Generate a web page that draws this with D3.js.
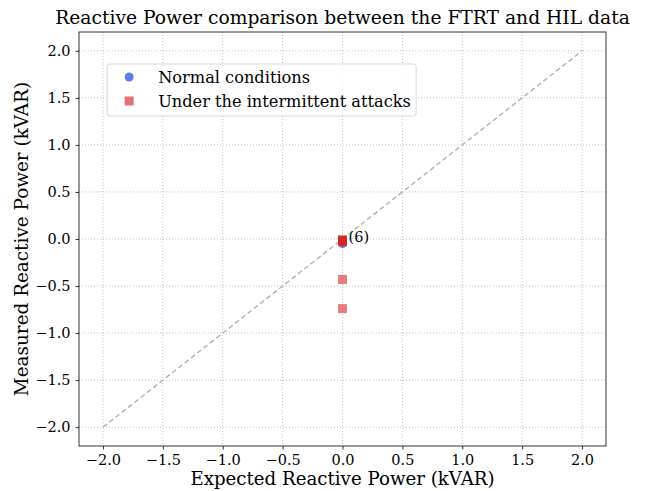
<!DOCTYPE html>
<html>
<head>
<meta charset="utf-8">
<script src="https://cdn.jsdelivr.net/npm/d3@7"></script>
<style>
  body { margin: 0; background: #fff; }
  text { font-family: "DejaVu Serif", serif; fill: #000; }
</style>
</head>
<body>
<div id="chart"></div>
<script>
const tickValues = [-2.0, -1.5, -1.0, -0.5, 0.0, 0.5, 1.0, 1.5, 2.0];

const normalExpected = [0.0];
const normalMeasured = [-0.05];

const attackExpected = [0.0, 0.0, 0.0, 0.0, 0.0, 0.0, 0.0, 0.0];
const attackMeasured = [-0.02, -0.01, -0.03, -0.02, -0.01, -0.02, -0.43, -0.74];

const annotations = [{ x: 0.0, y: -0.02, label: "(6)" }];

const seriesLabels = ["Normal conditions", "Under the intermittent attacks"];

(function () {
  const W = 649, H = 491;
  const margin = { top: 32, right: 43, bottom: 45, left: 79 };
  const w = W - margin.left - margin.right;
  const h = H - margin.top - margin.bottom;

  const svg = d3.select("#chart").append("svg")
    .attr("width", W)
    .attr("height", H);

  const plot = svg.append("g")
    .attr("transform", `translate(${margin.left},${margin.top})`);

  const x = d3.scaleLinear().domain([-2.2, 2.2]).range([0, w]);
  const y = d3.scaleLinear().domain([-2.2, 2.2]).range([h, 0]);

  const fmt = d => (d < 0 ? "\u2212" : "") + Math.abs(d).toFixed(1);

  // grid
  plot.append("g")
    .selectAll("line")
    .data(tickValues)
    .join("line")
    .attr("x1", d => x(d)).attr("x2", d => x(d))
    .attr("y1", 0).attr("y2", h)
    .attr("stroke", "#b0b0b0")
    .attr("stroke-width", 0.8)
    .attr("stroke-dasharray", "1,2");
  plot.append("g")
    .selectAll("line")
    .data(tickValues)
    .join("line")
    .attr("y1", d => y(d)).attr("y2", d => y(d))
    .attr("x1", 0).attr("x2", w)
    .attr("stroke", "#b0b0b0")
    .attr("stroke-width", 0.8)
    .attr("stroke-dasharray", "1,2");

  // axes
  const xAxis = plot.append("g")
    .attr("transform", `translate(0,${h})`)
    .call(d3.axisBottom(x).tickValues(tickValues).tickFormat(fmt).tickSize(3.5).tickPadding(5));
  const yAxis = plot.append("g")
    .call(d3.axisLeft(y).tickValues(tickValues).tickFormat(fmt).tickSize(3.5).tickPadding(5));
  [xAxis, yAxis].forEach(g => {
    g.select(".domain").remove();
    g.selectAll("text").style("font-family", "DejaVu Serif").style("font-size", "14.5px");
    g.selectAll("line").attr("stroke", "#000").attr("stroke-width", 0.8);
  });

  // identity line
  plot.append("line")
    .attr("x1", x(-2)).attr("y1", y(-2))
    .attr("x2", x(2)).attr("y2", y(2))
    .attr("stroke", "#b0b0b0")
    .attr("stroke-width", 1.4)
    .attr("stroke-dasharray", "5,3");

  // normal points
  plot.append("g")
    .selectAll("circle")
    .data(normalExpected.map((d, i) => ({ x: d, y: normalMeasured[i] })))
    .join("circle")
    .attr("cx", d => x(d.x))
    .attr("cy", d => y(d.y))
    .attr("r", 4.2)
    .attr("fill", "royalblue")
    .attr("fill-opacity", 0.85);

  // attack points
  const sq = 9;
  plot.append("g")
    .selectAll("rect")
    .data(attackExpected.map((d, i) => ({ x: d, y: attackMeasured[i] })))
    .join("rect")
    .attr("x", d => x(d.x) - sq / 2)
    .attr("y", d => y(d.y) - sq / 2)
    .attr("width", sq)
    .attr("height", sq)
    .attr("fill", "#d62728")
    .attr("fill-opacity", 0.6);

  // annotations
  plot.append("g")
    .selectAll("text")
    .data(annotations)
    .join("text")
    .attr("x", d => x(d.x) + 6)
    .attr("y", d => y(d.y) + 1)
    .style("font-size", "14.5px")
    .text(d => d.label);

  // frame
  plot.append("rect")
    .attr("width", w).attr("height", h)
    .attr("fill", "none")
    .attr("stroke", "#000")
    .attr("stroke-width", 0.8);

  // legend
  const legend = plot.append("g").attr("transform", `translate(${x(-1.965)},${y(1.86)})`);
  legend.append("rect")
    .attr("width", 309).attr("height", 52)
    .attr("rx", 3)
    .attr("fill", "#fff").attr("fill-opacity", 0.8)
    .attr("stroke", "#d9d9d9");
  legend.append("circle")
    .attr("cx", 22).attr("cy", 13).attr("r", 4.5)
    .attr("fill", "royalblue").attr("fill-opacity", 0.85);
  legend.append("rect")
    .attr("x", 17.5).attr("y", 32.5).attr("width", sq).attr("height", sq)
    .attr("fill", "#d62728").attr("fill-opacity", 0.65);
  legend.selectAll("text.lbl")
    .data(seriesLabels)
    .join("text")
    .attr("class", "lbl")
    .attr("x", 51)
    .attr("y", (d, i) => 19 + i * 24)
    .style("font-size", "16.2px")
    .text(d => d);

  // titles
  svg.append("text")
    .attr("x", margin.left + w / 2)
    .attr("y", 24)
    .attr("text-anchor", "middle")
    .style("font-size", "18.7px")
    .text("Reactive Power comparison between the FTRT and HIL data");

  svg.append("text")
    .attr("x", margin.left + w / 2)
    .attr("y", 485)
    .attr("text-anchor", "middle")
    .style("font-size", "18.2px")
    .text("Expected Reactive Power (kVAR)");

  svg.append("text")
    .attr("transform", `translate(28,${margin.top + h / 2}) rotate(-90)`)
    .attr("text-anchor", "middle")
    .style("font-size", "18.4px")
    .text("Measured Reactive Power (kVAR)");
})();
</script>
</body>
</html>
